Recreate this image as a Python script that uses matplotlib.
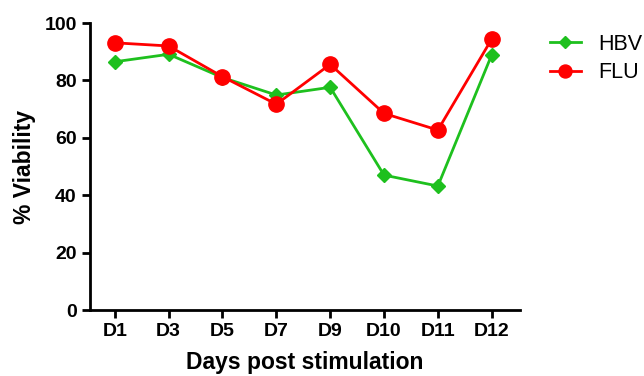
import numpy as np
import matplotlib
matplotlib.use("Agg")
import matplotlib.pyplot as plt

# data
days = ["D1", "D3", "D5", "D7", "D9", "D10", "D11", "D12"]
hbv = [86.5, 89.1, 81.0, 74.9, 77.6, 47.0, 43.2, 88.9]
flu = [93.1, 92.0, 81.3, 71.7, 85.6, 68.5, 62.7, 94.4]

plt.rcParams['font.family'] = ['Liberation Sans', 'DejaVu Sans']

fig = plt.figure(figsize=(6.44, 3.76), dpi=100)
ax = fig.add_axes([0.1398, 0.1755, 0.6672, 0.7633])

x = np.arange(len(days))
ax.plot(x, hbv, color='#1ec01e', lw=2, marker='D', ms=7, label='HBV', clip_on=False, zorder=3)
ax.plot(x, flu, color='#ff0000', lw=2, marker='o', ms=11, label='FLU', clip_on=False, zorder=4)

ax.set_xlim(-0.46, 7.52)
ax.set_ylim(0, 100)
ax.set_xticks(x)
ax.set_xticklabels(days)
ax.set_yticks([0, 20, 40, 60, 80, 100])

for s in ['top', 'right']:
    ax.spines[s].set_visible(False)
for s in ['left', 'bottom']:
    ax.spines[s].set_linewidth(2)
ax.tick_params(width=2, length=6, labelsize=14)
for lab in ax.get_xticklabels() + ax.get_yticklabels():
    lab.set_fontweight('bold')

ax.set_xlabel("Days post stimulation", fontsize=16.5, fontweight='bold', labelpad=8)
ax.set_ylabel("% Viability", fontsize=16.5, fontweight='bold', labelpad=6)

ax.legend(loc='upper left', bbox_to_anchor=(1.025, 1.03), frameon=False, fontsize=15.5,
          handlelength=1.45, handletextpad=0.8, labelspacing=0.35, markerscale=0.85)

fig.savefig("out.png", dpi=100)
